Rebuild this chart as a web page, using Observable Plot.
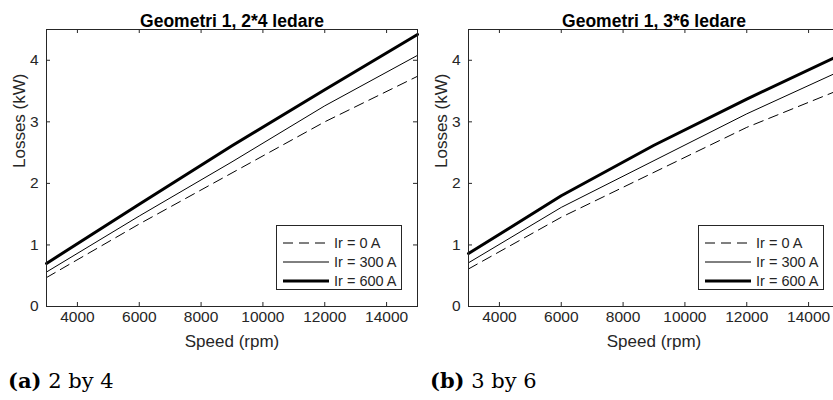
<!DOCTYPE html>
<html><head><meta charset="utf-8">
<script src="https://cdn.jsdelivr.net/npm/d3@7"></script>
<script src="https://cdn.jsdelivr.net/npm/@observablehq/plot@0.6"></script>
<style>
html,body{margin:0;padding:0}
body{width:833px;height:400px;overflow:hidden;background:#fff;position:relative;font-family:"Liberation Sans",Arial,sans-serif;color:#262626}
.panel{position:absolute;top:0;height:400px}
.panel svg.plot{max-width:none !important;display:block}
.legend{position:absolute;border:1px solid #262626;background:#fff;box-sizing:border-box}
.legend .row{position:absolute;left:0;height:19px;display:flex;align-items:center;font-size:14.5px;white-space:nowrap}
.legend svg{display:block}
.caption{position:absolute;font-family:"DejaVu Serif",serif;font-size:21px;color:#000;line-height:21px;white-space:nowrap}
</style></head><body>
<div id="a" class="panel" style="left:0px;width:418px"></div>
<div id="b" class="panel" style="left:418px;width:425px"></div>
<script>
// ---- data ----
const speeds = [3000, 6000, 9000, 12000, 15000];
const currents = ["Ir = 0 A", "Ir = 300 A", "Ir = 600 A"];
const titles = ["Geometri 1, 2*4 ledare", "Geometri 1, 3*6 ledare"];
const captionTags = ["(a)", "(b)"];
const captionTexts = ["2 by 4", "3 by 6"];
// panel a (2*4)
const a_ir0   = [0.47, 1.34, 2.17, 3.00, 3.74];
const a_ir300 = [0.56, 1.47, 2.35, 3.26, 4.08];
const a_ir600 = [0.70, 1.66, 2.61, 3.52, 4.42];
// panel b (3*6)
const b_ir0   = [0.61, 1.45, 2.18, 2.91, 3.52];
const b_ir300 = [0.71, 1.61, 2.37, 3.13, 3.82];
const b_ir600 = [0.86, 1.80, 2.62, 3.37, 4.08];
const xTicks = [4000, 6000, 8000, 10000, 12000, 14000];
const yTicks = [0, 1, 2, 3, 4];
const xLabel = "Speed (rpm)";
const yLabel = "Losses (kW)";

// ---- styles ----
const lineStyles = [
  {strokeWidth: 1, strokeDasharray: "10,6"},
  {strokeWidth: 1, strokeDasharray: null},
  {strokeWidth: 3, strokeDasharray: null}
];
const axisColor = "#262626";
const fontStack = "'Liberation Sans', Arial, sans-serif";

function rows(vals) { return speeds.map((s, i) => ({speed: s, loss: vals[i]})); }

function panel(el, idx, series, width, marginLeft, marginRight) {
  const marginTop = 29, marginBottom = 54, height = 360;
  const fw = width - marginLeft - marginRight;
  const fh = height - marginTop - marginBottom;
  const marks = [];
  series.forEach((vals, k) => {
    marks.push(Plot.line(rows(vals), {x: "speed", y: "loss", stroke: "#000",
      strokeWidth: lineStyles[k].strokeWidth, strokeDasharray: lineStyles[k].strokeDasharray,
      strokeLinejoin: "round"}));
  });
  marks.push(
    Plot.frame({stroke: axisColor, strokeWidth: 1}),
    Plot.tickX(xTicks, {x: d => d, insetTop: fh - 4, stroke: axisColor}),
    Plot.tickX(xTicks, {x: d => d, insetBottom: fh - 4, stroke: axisColor}),
    Plot.tickY(yTicks, {y: d => d, insetRight: fw - 4, stroke: axisColor}),
    Plot.tickY(yTicks, {y: d => d, insetLeft: fw - 4, stroke: axisColor}),
    Plot.axisX({ticks: xTicks, tickSize: 0, tickPadding: 4, label: null, tickFormat: d => String(d), fill: axisColor, fontSize: 15.5}),
    Plot.axisY({ticks: yTicks, tickSize: 0, tickPadding: 8, label: null, tickFormat: d => String(d), fill: axisColor, fontSize: 15.5}),
    Plot.text([xLabel], {text: d => d, frameAnchor: "bottom", dy: 40, fontSize: 17, fill: axisColor}),
    Plot.text([yLabel], {text: d => d, frameAnchor: "left", dx: -27, rotate: -90, fontSize: 17, fill: axisColor}),
    Plot.text([titles[idx]], {text: d => d, frameAnchor: "top", dy: -14.5, fontSize: 17.5, fontWeight: "bold", fill: "#000"})
  );
  const chart = Plot.plot({
    width, height, marginTop, marginBottom, marginLeft, marginRight,
    x: {domain: [3000, 15000]},
    y: {domain: [0, 4.5]},
    style: `font-family: ${fontStack}; font-size: 15.5px; background: transparent; overflow: visible; max-width: none; display: block;`,
    marks
  });
  el.appendChild(chart);

  // legend (HTML overlay)
  const lg = document.createElement("div");
  lg.className = "legend";
  lg.style.left = (marginLeft + 230) + "px";
  lg.style.top = "225px";
  lg.style.width = "126px";
  lg.style.height = "65px";
  currents.forEach((name, k) => {
    const r = document.createElement("div");
    r.className = "row";
    r.style.top = (7 + k * 19.3) + "px";
    const ns = "http://www.w3.org/2000/svg";
    const s = document.createElementNS(ns, "svg");
    s.setAttribute("width", "52"); s.setAttribute("height", "6");
    const ln = document.createElementNS(ns, "line");
    ln.setAttribute("x1", "6"); ln.setAttribute("x2", "52");
    ln.setAttribute("y1", "3"); ln.setAttribute("y2", "3");
    ln.setAttribute("stroke", "#000");
    ln.setAttribute("stroke-width", lineStyles[k].strokeWidth);
    if (lineStyles[k].strokeDasharray) ln.setAttribute("stroke-dasharray", lineStyles[k].strokeDasharray);
    s.appendChild(ln);
    r.appendChild(s);
    const t = document.createElement("span");
    t.textContent = name;
    t.style.marginLeft = "5px";
    r.appendChild(t);
    lg.appendChild(r);
  });
  el.appendChild(lg);

  const cap = document.createElement("div");
  cap.className = "caption";
  cap.style.left = (idx === 0 ? 8 : 12) + "px";
  cap.style.top = "370px";
  const b = document.createElement("b");
  b.textContent = captionTags[idx];
  cap.appendChild(b);
  cap.appendChild(document.createTextNode(" " + captionTexts[idx]));
  el.appendChild(cap);
}

panel(document.getElementById("a"), 0, [a_ir0, a_ir300, a_ir600], 418, 46, 1);
panel(document.getElementById("b"), 1, [b_ir0, b_ir300, b_ir600], 425, 50, 4);
</script>
</body></html>
